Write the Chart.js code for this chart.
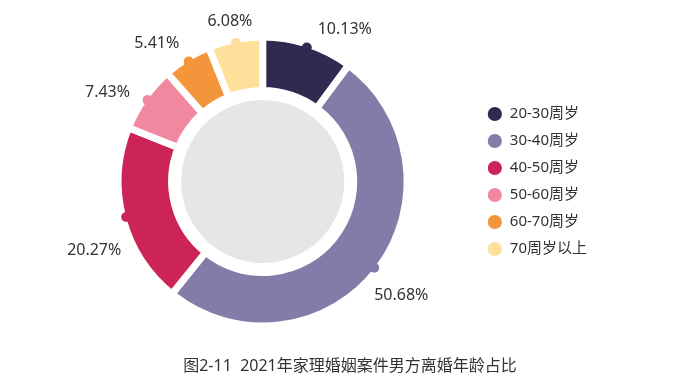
<!DOCTYPE html>
<html>
<head>
<meta charset="utf-8">
<script src="https://cdn.jsdelivr.net/npm/chart.js@4/dist/chart.umd.min.js"></script>
<style>
  html, body { margin: 0; padding: 0; background: #fff; }
  #wrap { position: relative; width: 692px; height: 382px; }
  #caption {
    position: absolute; left: 150px; width: 400px; top: 352px;
    text-align: center; font: 16px "Noto Sans", "Noto Sans CJK SC", sans-serif; color: #333;
    white-space: nowrap;
  }
</style>
</head>
<body>
<div id="wrap">
  <canvas id="ageChart" width="692" height="382"></canvas>
  <div id="caption">图2-11&nbsp;&nbsp;2021年家理婚姻案件男方离婚年龄占比</div>
</div>
<script>
const ctx = document.getElementById("ageChart");

const ageGroups = ["20-30周岁", "30-40周岁", "40-50周岁", "50-60周岁", "60-70周岁", "70周岁以上"];
const shares = [10.13, 50.68, 20.27, 7.43, 5.41, 6.08];
const colors = ["#312a50", "#857ba8", "#cc2457", "#f288a0", "#f2953b", "#ffe09a"];

// label position relative to its dot on the rim
const labelShift = [[38, -18], [27, 28], [-32, 33], [-40, -8], [-32, -18], [-6, -22]];

const BORDER = 7;

const ringDecor = {
  id: "ringDecor",
  beforeDatasetsDraw(chart) {
    const arc = chart.getDatasetMeta(0).data[0];
    const c = chart.ctx;
    c.save();
    c.fillStyle = "#e5e6e8";
    c.beginPath();
    c.arc(arc.x, arc.y, arc.innerRadius - BORDER / 2 - 6, 0, Math.PI * 2);
    c.fill();
    c.restore();
  },
  afterDatasetsDraw(chart) {
    const c = chart.ctx;
    const arcs = chart.getDatasetMeta(0).data;
    c.save();
    c.font = '16px "Noto Sans", "Noto Sans CJK SC", sans-serif';
    c.textAlign = "center";
    c.textBaseline = "middle";
    arcs.forEach((a, i) => {
      const mid = (a.startAngle + a.endAngle) / 2;
      const r = a.outerRadius - BORDER / 2;
      const px = a.x + Math.cos(mid) * r;
      const py = a.y + Math.sin(mid) * r;
      c.fillStyle = colors[i];
      c.beginPath();
      c.arc(px, py, 5, 0, Math.PI * 2);
      c.fill();
      c.fillStyle = "#333";
      c.fillText(shares[i].toFixed(2) + "%", px + labelShift[i][0], py + labelShift[i][1]);
    });
    c.restore();
  }
};

new Chart(ctx, {
  type: "doughnut",
  data: {
    labels: ageGroups,
    datasets: [
      {
        data: shares,
        backgroundColor: colors,
        borderColor: "#ffffff",
        borderWidth: BORDER,
        hoverOffset: 0
      }
    ]
  },
  options: {
    responsive: false,
    animation: false,
    radius: 141 + BORDER / 2,
    cutout: "63%",
    layout: {
      padding: { top: 10, bottom: 29, left: 50, right: 95 }
    },
    plugins: {
      tooltip: { enabled: false },
      title: { display: false },
      legend: {
        position: "right",
        align: "center",
        labels: {
          usePointStyle: true,
          pointStyle: "circle",
          boxWidth: 15,
          boxHeight: 15,
          padding: 12,
          color: "#333",
          font: { size: 15, family: '"Noto Sans", "Noto Sans CJK SC", sans-serif' }
        }
      }
    }
  },
  plugins: [ringDecor]
});
</script>
</body>
</html>
